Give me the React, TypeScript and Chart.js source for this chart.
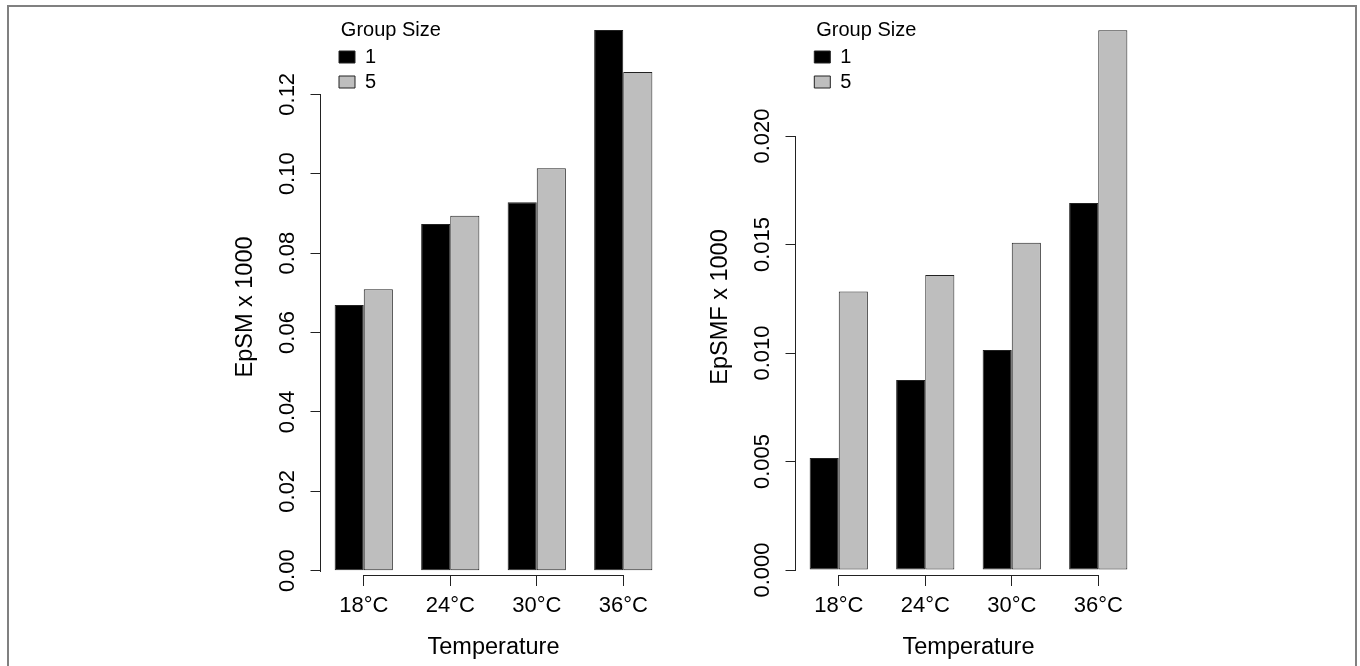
import React, { useEffect, useRef } from 'react';
import { Chart, registerables } from 'chart.js';

Chart.register(...registerables);

// ---------- data ----------
const categories = ['18°C', '24°C', '30°C', '36°C'];
const groupSizes = ['1', '5'];
const epsmGroup1 = [0.0669, 0.0873, 0.0928, 0.1362];
const epsmGroup5 = [0.0709, 0.0894, 0.1014, 0.1256];
const epsmfGroup1 = [0.00516, 0.00876, 0.01014, 0.01691];
const epsmfGroup5 = [0.01283, 0.01359, 0.01508, 0.02487];
const epsmTickValues = [0, 0.02, 0.04, 0.06, 0.08, 0.1, 0.12];
const epsmTickLabels = ['0.00', '0.02', '0.04', '0.06', '0.08', '0.10', '0.12'];
const epsmfTickValues = [0, 0.005, 0.01, 0.015, 0.02];
const epsmfTickLabels = ['0.000', '0.005', '0.010', '0.015', '0.020'];
const xTitle = 'Temperature';
const epsmTitle = 'EpSM x 1000';
const epsmfTitle = 'EpSMF x 1000';
const legendTitle = 'Group Size';

// ---------- style ----------
const FONT = "'Liberation Sans', Arial, Helvetica, sans-serif";
const barFills = ['#000000', '#BEBEBE'];
const lineColor = '#222222';
const titleSize = 23.5;
Chart.defaults.font.family = FONT;
Chart.defaults.color = '#000000';

const panels = [
  {
    canvasLeft: 0,
    s1: epsmGroup1,
    s5: epsmGroup5,
    tickValues: epsmTickValues,
    tickLabels: epsmTickLabels,
    yTitle: epsmTitle,
    yMin: -0.00108,
    yMax: 0.13393,
    yWidth: 320.5,
    padRight: 13.5,
    tickPad: 0.8,
    yTitlePad: 231.9,
    legendLeft: 334,
    legendWidth: 113.7,
  },
  {
    canvasLeft: 680,
    s1: epsmfGroup1,
    s5: epsmfGroup5,
    tickValues: epsmfTickValues,
    tickLabels: epsmfTickLabels,
    yTitle: epsmfTitle,
    yMin: -0.00023,
    yMax: 0.02447,
    yWidth: 115.5,
    padRight: 218.5,
    tickPad: -4.5,
    yTitlePad: 26.9,
    legendLeft: 129.3,
    legendWidth: 114,
  },
];

function rStylePlugin(p: any) {
  return {
    id: 'rStyle',
    beforeDraw(chart: any) {
      const lg = chart.legend;
      if (lg) {
        lg.left = p.legendLeft;
        lg.width = p.legendWidth;
        lg.right = p.legendLeft + p.legendWidth;
        lg.top = 0;
        lg.bottom = 200;
        lg.height = 200;
      }
    },
    afterDraw(chart: any) {
      const ctx = chart.ctx;
      const ys = chart.scales.y;
      const xs = chart.scales.x;
      const area = chart.chartArea;
      ctx.save();
      ctx.strokeStyle = lineColor;
      ctx.lineWidth = 1;
      // y axis line from first to last tick
      const ax = Math.floor(area.left) + 0.5;
      const yTop = Math.round(ys.getPixelForValue(p.tickValues[p.tickValues.length - 1])) + 0.5;
      const yBot = Math.round(ys.getPixelForValue(p.tickValues[0])) + 0.5;
      ctx.beginPath();
      ctx.moveTo(ax, yTop - 0.5);
      ctx.lineTo(ax, yBot + 0.5);
      ctx.stroke();
      // x axis line from first to last category tick
      const ay = Math.floor(area.bottom) + 0.5;
      const x0 = Math.round(xs.getPixelForTick(0) - 0.5) + 0.5;
      const x1 = Math.round(xs.getPixelForTick(categories.length - 1) - 0.5) + 0.5;
      ctx.beginPath();
      ctx.moveTo(x0 - 0.5, ay);
      ctx.lineTo(x1 + 0.5, ay);
      ctx.stroke();
      ctx.restore();
    },
  };
}

function makeConfig(p: any): any {
  const ds = (label: string, data: number[], fill: string) => ({
    label,
    data,
    backgroundColor: fill,
    borderColor: lineColor,
    borderWidth: 1,
    borderSkipped: false,
    categoryPercentage: 0.673,
    barPercentage: 1,
    clip: false,
  });
  return {
    type: 'bar',
    data: {
      labels: categories,
      datasets: [ds(groupSizes[0], p.s1, barFills[0]), ds(groupSizes[1], p.s5, barFills[1])],
    },
    options: {
      responsive: false,
      animation: false,
      devicePixelRatio: 1,
      layout: { padding: { left: 0, right: p.padRight, top: 39, bottom: 0 } },
      scales: {
        x: {
          type: 'category',
          offset: true,
          grid: {
            display: true,
            drawOnChartArea: false,
            drawTicks: true,
            tickLength: 11,
            offset: false,
            color: lineColor,
            lineWidth: 1,
          },
          border: { display: false },
          ticks: {
            font: { size: 22 },
            color: '#000',
            padding: 6.8,
            maxRotation: 0,
            minRotation: 0,
            autoSkip: false,
          },
          title: {
            display: true,
            text: xTitle,
            font: { size: titleSize },
            color: '#000',
            padding: { top: 0, bottom: 3.9 },
          },
          afterFit: (s: any) => {
            s.height = 91;
          },
        },
        y: {
          type: 'linear',
          min: p.yMin,
          max: p.yMax,
          grid: {
            display: true,
            drawOnChartArea: false,
            drawTicks: true,
            tickLength: 10,
            color: lineColor,
            lineWidth: 1,
          },
          border: { display: false },
          afterBuildTicks: (s: any) => {
            s.ticks = p.tickValues.map((v: number) => ({ value: v }));
          },
          ticks: {
            font: { size: 22 },
            color: '#000',
            minRotation: 90,
            maxRotation: 90,
            crossAlign: 'center',
            padding: p.tickPad,
            autoSkip: false,
            callback: (_v: any, i: number) => p.tickLabels[i],
          },
          title: {
            display: true,
            text: p.yTitle,
            font: { size: titleSize },
            color: '#000',
            padding: { top: p.yTitlePad, bottom: 0 },
          },
          afterFit: (s: any) => {
            s.width = p.yWidth;
          },
        },
      },
      plugins: {
        legend: {
          display: true,
          position: 'chartArea',
          align: 'start',
          labels: {
            boxWidth: 16,
            boxHeight: 12,
            padding: 5,
            font: { size: 20 },
            color: '#000',
          },
          title: {
            display: true,
            text: legendTitle,
            position: 'center',
            font: { size: 20, lineHeight: 1 },
            color: '#000',
            padding: { top: 20.5, bottom: 1.5 },
          },
        },
        tooltip: { enabled: false },
      },
    },
    plugins: [rStylePlugin(p)],
  };
}

function Panel({ p }: { p: any }) {
  const ref = useRef<HTMLCanvasElement | null>(null);
  useEffect(() => {
    const chart = new Chart(ref.current as HTMLCanvasElement, makeConfig(p));
    return () => chart.destroy();
  }, []);
  return (
    <canvas
      ref={ref}
      width={680}
      height={666}
      style={{ position: 'absolute', left: p.canvasLeft, top: 0, width: 680, height: 666 }}
    />
  );
}

export default function App() {
  return (
    <div
      style={{
        position: 'fixed',
        left: 0,
        top: 0,
        width: 1360,
        height: 666,
        overflow: 'hidden',
        background: '#ffffff',
      }}
    >
      <div
        style={{
          position: 'absolute',
          left: 7,
          top: 5,
          width: 1350,
          height: 700,
          boxSizing: 'border-box',
          border: '2px solid #808080',
        }}
      />
      {panels.map((p, i) => (
        <Panel key={i} p={p} />
      ))}
    </div>
  );
}
